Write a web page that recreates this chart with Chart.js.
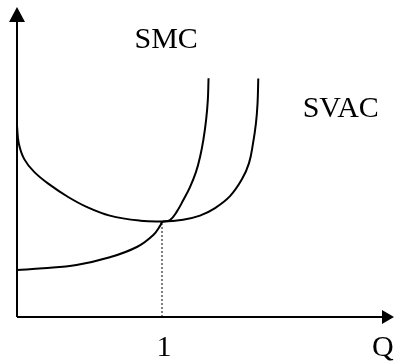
<!DOCTYPE html>
<html>
<head>
<meta charset="utf-8">
<script src="https://cdn.jsdelivr.net/npm/chart.js@4"></script>
<style>
  html, body { margin: 0; padding: 0; background: #fff; }
  #wrap { width: 394px; height: 362px; }
</style>
</head>
<body>
<div id="wrap"><canvas id="costChart"></canvas></div>
<script>
// quantity (x) and cost (y), Q = 1 at the minimum of SVAC
const svacQ = [0, 0.012, 0.05, 0.12, 0.23, 0.35, 0.48, 0.64, 0.85, 1.0, 1.145, 1.262, 1.366, 1.469, 1.552, 1.6, 1.628, 1.648, 1.659, 1.664];
const svacC = [1.32, 1.20, 1.09, 1.00, 0.91, 0.83, 0.76, 0.70, 0.665, 0.66, 0.672, 0.70, 0.752, 0.834, 0.952, 1.062, 1.20, 1.338, 1.476, 1.646];

const smcQ = [0, 0.18, 0.41, 0.64, 0.83, 0.94, 0.99, 1.0, 1.055, 1.101, 1.147, 1.193, 1.234, 1.262, 1.285, 1.304, 1.316, 1.321];
const smcC = [0.324, 0.336, 0.359, 0.412, 0.485, 0.566, 0.634, 0.655, 0.669, 0.726, 0.807, 0.897, 1.0, 1.103, 1.221, 1.359, 1.497, 1.648];

const xTicks = [1];
const xTickLabels = ['1'];
const axisNames = { x: 'Q' };
const curveNames = [
    { text: 'SMC', q: 0.81, c: 1.86 },
    { text: 'SVAC', q: 1.97, c: 1.38 }
];

const qMax = 2.6;
const cMax = 2.14;

function toPoints(xs, ys) {
    return xs.map((x, i) => ({ x: x, y: ys[i] }));
}

const drawAxes = {
    id: 'drawAxes',
    afterDatasetsDraw(chart) {
        const c = chart.ctx;
        const xs = chart.scales.x;
        const ys = chart.scales.y;
        const x0 = xs.getPixelForValue(0);
        const y0 = ys.getPixelForValue(0);
        const xEnd = xs.getPixelForValue(qMax);
        const yEnd = ys.getPixelForValue(cMax);

        c.save();
        c.strokeStyle = '#000';
        c.fillStyle = '#000';
        c.lineWidth = 2;
        c.beginPath();
        c.moveTo(x0, y0);
        c.lineTo(x0, yEnd + 12);
        c.moveTo(x0, y0);
        c.lineTo(xEnd - 10, y0);
        c.stroke();

        // arrow heads
        c.beginPath();
        c.moveTo(x0, yEnd);
        c.lineTo(x0 - 8, yEnd + 15);
        c.lineTo(x0 + 8, yEnd + 15);
        c.closePath();
        c.fill();
        c.beginPath();
        c.moveTo(xEnd, y0);
        c.lineTo(xEnd - 12, y0 - 7);
        c.lineTo(xEnd - 12, y0 + 7);
        c.closePath();
        c.fill();

        c.font = '30px "Liberation Serif", "Times New Roman", serif';
        c.textBaseline = 'alphabetic';
        c.textAlign = 'center';
        xTicks.forEach((t, i) => {
            c.fillText(xTickLabels[i], xs.getPixelForValue(t) + 2, y0 + 39);
        });
        c.textAlign = 'left';
        c.fillText(axisNames.x, 372, y0 + 39);
        curveNames.forEach(n => {
            c.fillText(n.text, xs.getPixelForValue(n.q), ys.getPixelForValue(n.c));
        });
        c.restore();
    }
};

const ctx = document.getElementById('costChart').getContext('2d');
const costChart = new Chart(ctx, {
    type: 'line',
    data: {
        datasets: [
            {
                label: 'SVAC',
                data: toPoints(svacQ, svacC),
                borderColor: '#000',
                borderWidth: 2,
                pointRadius: 0,
                tension: 0.4,
                clip: false
            },
            {
                label: 'SMC',
                data: toPoints(smcQ, smcC),
                borderColor: '#000',
                borderWidth: 2,
                pointRadius: 0,
                tension: 0.4,
                clip: false
            },
            {
                label: 'Q = 1',
                data: [{ x: 1, y: 0 }, { x: 1, y: 0.655 }],
                borderColor: '#000',
                borderWidth: 1,
                borderDash: [2, 2],
                pointRadius: 0,
                clip: false
            }
        ]
    },
    options: {
        responsive: true,
        maintainAspectRatio: false,
        animation: false,
        layout: { padding: { left: 17, right: 0, top: 7, bottom: 45 } },
        plugins: { legend: { display: false }, tooltip: { enabled: false } },
        scales: {
            x: { type: 'linear', min: 0, max: qMax, display: false },
            y: { type: 'linear', min: 0, max: cMax, display: false }
        }
    },
    plugins: [drawAxes]
});
</script>
</body>
</html>
